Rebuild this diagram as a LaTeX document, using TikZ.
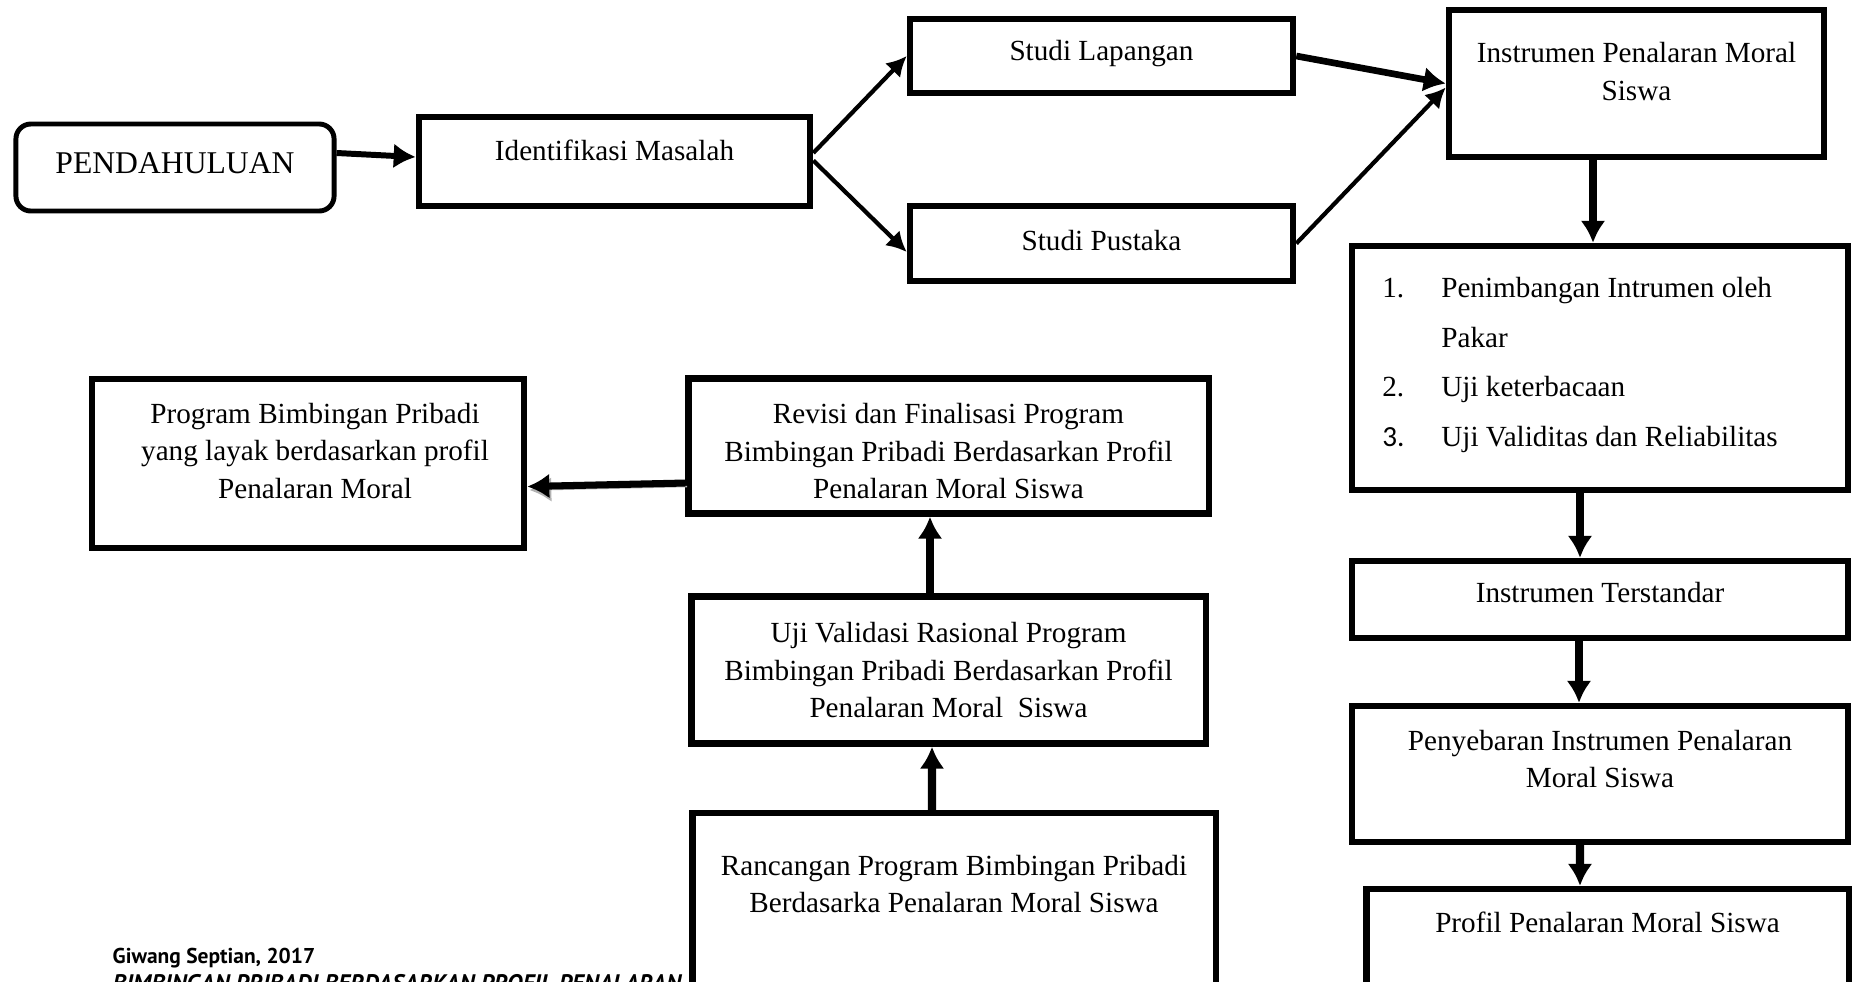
\documentclass[tikz,border=0pt]{standalone}
\usepackage{fontspec}
\setmainfont{Liberation Serif}
\newfontfamily\fontkaki{PT Sans}
\newfontfamily\fontangka{Carlito}
\usetikzlibrary{arrows.meta}

\begin{document}
\begin{tikzpicture}[x=0.01cm,y=-0.01cm,
    kotak/.style={draw,line width=1.8pt,fill=white,inner sep=0pt},
    teks/.style={font=\fontsize{8.3}{10.8}\selectfont,align=center,inner sep=0pt},
    panah/.style={line width=2.3pt,-{Latex[length=0.22cm,width=0.25cm]}},
    panahtipis/.style={line width=1.2pt,-{Latex[length=0.2cm,width=0.21cm]}},
    bayang/.style={preaction={draw=gray!60,transform canvas={shift={(0.02cm,-0.035cm)}}}}]
          \useasboundingbox (0,0) rectangle (1852,981);
          \clip (0,0) rectangle (1852,981);

          \node[anchor=base west,inner sep=0pt,font=\fontkaki\bfseries\fontsize{6.1}{7}\selectfont] (penulis) at (112,963) {Giwang Septian, 2017};
          \node[anchor=base west,inner sep=0pt,font=\fontkaki\bfseries\itshape\fontsize{6.8}{7}\selectfont] (judul) at (112,991) {BIMBINGAN PRIBADI BERDASARKAN PROFIL PENALARAN};

          \node[kotak,rounded corners=0.15cm,line width=1.4pt,minimum width=3.18cm,minimum height=0.87cm,
                label={[teks,font=\fontsize{9}{11}\selectfont,yshift=0.04cm]center:PENDAHULUAN}] (pendahuluan) at (175,167.5) {};
          \node[kotak,minimum width=3.91cm,minimum height=0.89cm,
                label={[teks,yshift=0.11cm]center:Identifikasi Masalah}] (identifikasi) at (614.5,161.5) {};
          \node[kotak,minimum width=3.83cm,minimum height=0.74cm,
                label={[teks,yshift=0.02cm]center:Studi Lapangan}] (lapangan) at (1101.5,56) {};
          \node[kotak,minimum width=3.83cm,minimum height=0.75cm,
                label={[teks,yshift=0.03cm]center:Studi Pustaka}] (pustaka) at (1101.5,243.5) {};
          \node[kotak,minimum width=3.75cm,minimum height=1.47cm,
                label={[teks,yshift=0.12cm]center:{Instrumen Penalaran Moral\\Siswa}}] (instrumen) at (1636.5,83.5) {};
          \node[kotak,minimum width=4.96cm,minimum height=2.44cm,
                label={[teks,font=\fontsize{8.3}{14.2}\selectfont,xshift=-0.2cm,yshift=0.06cm]center:{\begin{tabular}{@{}p{0.59cm}@{}l@{}}
                  1. & Penimbangan Intrumen oleh\\
                     & Pakar\\
                  2. & Uji keterbacaan\\
                  {\fontangka 3.} & Uji Validitas dan Reliabilitas
                \end{tabular}}}] (pengujian) at (1600,368) {};
          \node[kotak,minimum width=4.96cm,minimum height=0.77cm,
                label={[teks,yshift=0.065cm]center:Instrumen Terstandar}] (terstandar) at (1600,599.5) {};
          \node[kotak,minimum width=4.96cm,minimum height=1.36cm,
                label={[teks,yshift=0.15cm]center:{Penyebaran Instrumen Penalaran\\Moral Siswa}}] (penyebaran) at (1600,774) {};
          \node[kotak,minimum width=4.82cm,minimum height=1.21cm,
                label={[teks,yshift=0.275cm]center:Profil Penalaran Moral Siswa}] (profil) at (1607.5,949.5) {};

          \node[kotak,minimum width=4.32cm,minimum height=1.69cm,
                label={[teks,xshift=0.07cm,yshift=0.125cm]center:{Program Bimbingan Pribadi\\yang layak berdasarkan profil\\Penalaran Moral}}] (program) at (308,463.5) {};
          \node[kotak,minimum width=5.2cm,minimum height=1.35cm,
                label={[teks,yshift=-0.05cm]center:{Revisi dan Finalisasi Program\\Bimbingan Pribadi Berdasarkan Profil\\Penalaran Moral Siswa}}] (revisi) at (948.5,446) {};
          \node[kotak,minimum width=5.14cm,minimum height=1.47cm,
                label={[teks]center:{Uji Validasi Rasional Program\\Bimbingan Pribadi Berdasarkan Profil\\Penalaran Moral\ \ Siswa}}] (uji) at (948.5,670) {};
          \node[kotak,minimum width=5.23cm,minimum height=1.96cm,
                label={[teks,yshift=0.27cm]center:{Rancangan Program Bimbingan Pribadi\\Berdasarka Penalaran Moral Siswa}}] (rancangan) at (954,911) {};

          \draw[panah,line width=1.7pt] ([yshift=0.145cm]pendahuluan.east) -- ([yshift=0.045cm]identifikasi.west);
          \draw[panahtipis] ([yshift=0.085cm]identifikasi.east) -- (lapangan.west);
          \draw[panahtipis] ([yshift=0.01cm]identifikasi.east) -- ([yshift=-0.085cm]pustaka.west);
          \draw[panah,line width=1.9pt] (lapangan.east) -- (instrumen.west);
          \draw[panahtipis] (pustaka.east) -- ([yshift=-0.04cm]instrumen.west);

          \draw[panah] ([xshift=-0.07cm]pengujian.north |- instrumen.south) -- ([xshift=-0.07cm]pengujian.north);
          \draw[panah] ([xshift=-0.2cm]pengujian.south) -- ([xshift=-0.2cm]terstandar.north);
          \draw[panah] ([xshift=-0.21cm]terstandar.south) -- ([xshift=-0.21cm]penyebaran.north);
          \draw[panah] ([xshift=-0.2cm]penyebaran.south) -- ([xshift=-0.275cm]profil.north);

          \draw[panah] ([xshift=-0.22cm]rancangan.north) -- ([xshift=-0.165cm]uji.south);
          \draw[panah] ([xshift=-0.185cm]uji.north) -- ([xshift=-0.185cm]revisi.south);
          \draw[panah,line width=2pt,bayang] ([yshift=-0.37cm]revisi.west) -- ([yshift=-0.23cm]program.east);
      \end{tikzpicture}
\end{document}
